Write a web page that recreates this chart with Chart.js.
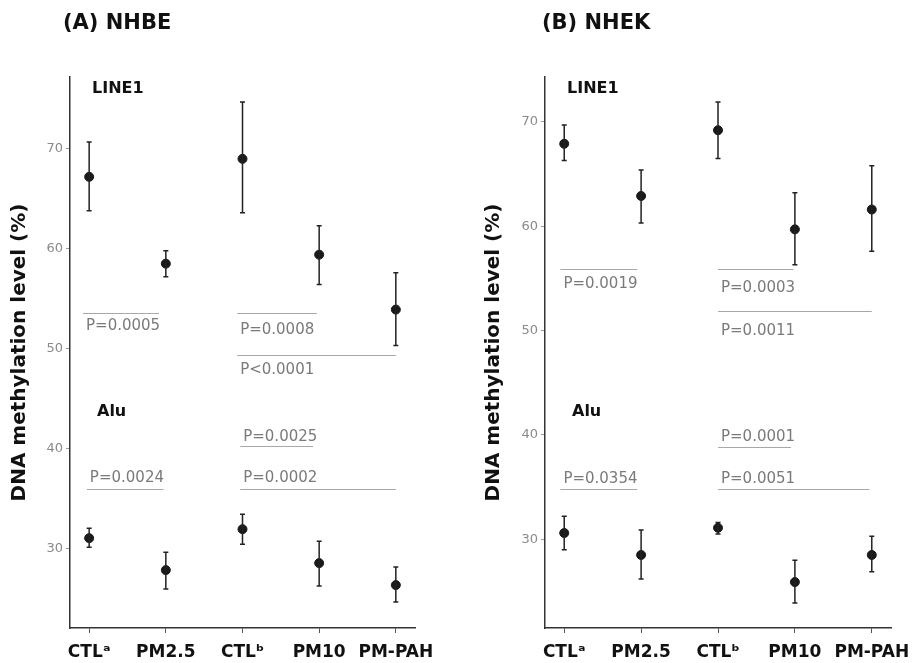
<!DOCTYPE html>
<html>
<head>
<meta charset="utf-8">
<script src="https://cdn.jsdelivr.net/npm/chart.js@4.4.1/dist/chart.umd.min.js"></script>
<style>
  html, body { margin: 0; padding: 0; background: #fff; }
  .panel { position: absolute; top: 0; height: 663px; }
  #wrapA { left: 0; width: 460px; }
  #wrapB { left: 460px; width: 461px; }
</style>
</head>
<body>
<div class="panel" id="wrapA"><canvas id="chartA" width="460" height="663"></canvas></div>
<div class="panel" id="wrapB"><canvas id="chartB" width="461" height="663"></canvas></div>
<script>
/* data */
const categories = ["CTLᵃ", "PM2.5", "CTLᵇ", "PM10", "PM-PAH"];
const yTicks = [30, 40, 50, 60, 70];

// (A) NHBE
const nhbeLine1 = [67.2, 58.5, 69.0, 59.4, 53.9];
const nhbeLine1Lo = [63.8, 57.2, 63.6, 56.4, 50.3];
const nhbeLine1Hi = [70.7, 59.8, 74.7, 62.3, 57.6];
const nhbeAlu = [31.0, 27.8, 31.9, 28.5, 26.3];
const nhbeAluLo = [30.1, 25.9, 30.4, 26.2, 24.6];
const nhbeAluHi = [32.0, 29.6, 33.4, 30.7, 28.1];

// (B) NHEK
const nhekLine1 = [67.9, 62.9, 69.2, 59.7, 61.6];
const nhekLine1Lo = [66.3, 60.3, 66.5, 56.3, 57.6];
const nhekLine1Hi = [69.7, 65.4, 71.9, 63.2, 65.8];
const nhekAlu = [30.6, 28.5, 31.1, 25.9, 28.5];
const nhekAluLo = [29.0, 26.2, 30.5, 23.9, 26.9];
const nhekAluHi = [32.2, 30.9, 31.6, 28.0, 30.3];

// p-value brackets: from, to, line level, label, label level
const nhbePvals = [
  [0.92, 1.91, 53.6, "P=0.0005", 52.2],
  [2.93, 3.97, 53.6, "P=0.0008", 51.8],
  [2.93, 5.0, 49.35, "P<0.0001", 47.85],
  [0.97, 1.97, 35.9, "P=0.0024", 37.0],
  [2.97, 3.92, 40.2, "P=0.0025", 41.1],
  [2.97, 5.0, 35.9, "P=0.0002", 37.0]
];
const nhekPvals = [
  [0.95, 1.95, 55.86, "P=0.0019", 54.45],
  [3.0, 3.98, 55.86, "P=0.0003", 54.1],
  [3.0, 5.0, 51.83, "P=0.0011", 49.97],
  [0.95, 1.95, 34.78, "P=0.0354", 35.74],
  [3.0, 3.95, 38.88, "P=0.0001", 39.8],
  [3.0, 4.97, 34.78, "P=0.0051", 35.74]
];

const toPoints = (vals) => vals.map((v, i) => ({ x: i + 1, y: v }));
const FONT = "'DejaVu Sans'";

/* error bars, p lines and text labels */
const extrasPlugin = {
  id: "extras",
  afterDatasetsDraw(chart, args, opts) {
    const ctx = chart.ctx;
    const xs = chart.scales.x, ys = chart.scales.y;
    ctx.save();
    // error bars
    ctx.strokeStyle = "#222";
    ctx.lineWidth = 1.5;
    opts.errors.forEach(([lo, hi]) => {
      lo.forEach((l, i) => {
        const x = xs.getPixelForValue(i + 1);
        const y1 = ys.getPixelForValue(l), y2 = ys.getPixelForValue(hi[i]);
        ctx.beginPath();
        ctx.moveTo(x, y1); ctx.lineTo(x, y2);
        ctx.moveTo(x - 2.5, y1); ctx.lineTo(x + 2.5, y1);
        ctx.moveTo(x - 2.5, y2); ctx.lineTo(x + 2.5, y2);
        ctx.stroke();
      });
    });
    // p-values
    ctx.font = "15px " + FONT;
    ctx.textBaseline = "middle";
    ctx.textAlign = "left";
    opts.pvals.forEach(([a, b, lvl, txt, tl]) => {
      const x1 = xs.getPixelForValue(a), x2 = xs.getPixelForValue(b);
      const y = Math.round(ys.getPixelForValue(lvl)) + 0.5;
      ctx.strokeStyle = "#a8a8a8";
      ctx.lineWidth = 1;
      ctx.beginPath(); ctx.moveTo(x1, y); ctx.lineTo(x2, y); ctx.stroke();
      ctx.fillStyle = "#7a7a7a";
      ctx.fillText(txt, x1 + 3, ys.getPixelForValue(tl));
    });
    // labels
    ctx.fillStyle = "#111";
    ctx.font = "bold 16px " + FONT;
    ctx.fillText("LINE1", chart.chartArea.left + opts.lineX, 89);
    ctx.fillText("Alu", chart.chartArea.left + opts.aluX, 412);
    ctx.font = "bold 21px " + FONT;
    ctx.fillText(opts.title, opts.titleX, 24);
    ctx.restore();
  }
};

function makeChart(id, line1, alu, errors, pvals, yMin, yMax, yW, padRight, titleX, title, titlePad) {
  new Chart(document.getElementById(id), {
    type: "scatter",
    data: {
      datasets: [
        { label: "LINE1", data: toPoints(line1), backgroundColor: "#1a1a1a", borderColor: "#1a1a1a", pointRadius: 4.5 },
        { label: "Alu", data: toPoints(alu), backgroundColor: "#1a1a1a", borderColor: "#1a1a1a", pointRadius: 4.5 }
      ]
    },
    options: {
      responsive: false,
      animation: false,
      layout: { padding: { top: 77, right: padRight, left: 0, bottom: 0 } },
      plugins: {
        legend: { display: false },
        tooltip: { enabled: false },
        extras: { errors: errors, pvals: pvals, lineX: 22, aluX: 27, title: title, titleX: titleX }
      },
      scales: {
        x: {
          type: "linear",
          min: 0.75,
          max: 5.25,
          afterBuildTicks: (s) => { s.ticks = categories.map((c, i) => ({ value: i + 1 })); },
          afterFit: (s) => { s.height = 35; },
          ticks: {
            callback: (v) => categories[v - 1],
            color: "#111",
            font: { family: FONT, size: 17, weight: "bold" },
            padding: 9,
            maxRotation: 0,
            autoSkip: false
          },
          grid: { drawOnChartArea: false, drawTicks: true, tickLength: 5, color: "#555" },
          border: { display: true, color: "#333", width: 1.5 }
        },
        y: {
          min: yMin,
          max: yMax,
          afterBuildTicks: (s) => { s.ticks = yTicks.map((v) => ({ value: v })); },
          afterFit: (s) => { s.width = yW; },
          ticks: {
            color: "#8a8a8a",
            font: { family: FONT, size: 13 },
            padding: 3
          },
          grid: { drawOnChartArea: false, drawTicks: true, tickLength: 4, color: "#999" },
          border: { display: true, color: "#333", width: 1.5 },
          title: {
            display: true,
            text: "DNA methylation level (%)",
            color: "#111",
            font: { family: FONT, size: 20, weight: "bold" },
            padding: { top: titlePad, bottom: 0 }
          }
        }
      }
    },
    plugins: [extrasPlugin]
  });
}

makeChart("chartA", nhbeLine1, nhbeAlu,
  [[nhbeLine1Lo, nhbeLine1Hi], [nhbeAluLo, nhbeAluHi]],
  nhbePvals, 22, 77.2, 70, 45, 63, "(A) NHBE", 8);

makeChart("chartB", nhekLine1, nhekAlu,
  [[nhekLine1Lo, nhekLine1Hi], [nhekAluLo, nhekAluHi]],
  nhekPvals, 21.5, 74.3, 85, 30, 82, "(B) NHEK", 22);
</script>
</body>
</html>
